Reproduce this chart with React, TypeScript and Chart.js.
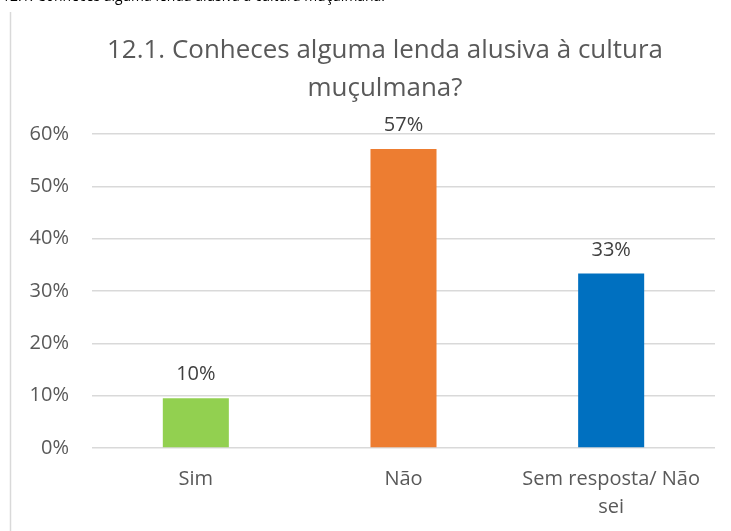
import React, { useEffect, useRef } from "react";
import { Chart, registerables } from "chart.js";

Chart.register(...registerables);

const categories: string[][] = [["Sim"], ["Não"], ["Sem resposta/ Não", "sei"]];
const values: number[] = [9.52, 57.14, 33.33];
const valueLabels: string[] = ["10%", "57%", "33%"];
const barColors: string[] = ["#92D050", "#ED7D31", "#0070C0"];
const titleLines: string[] = ["12.1. Conheces alguma lenda alusiva à cultura", "muçulmana?"];
const topFragment = "12.1. Conheces alguma lenda alusiva à cultura muçulmana.";
const yMax = 60;
const yStep = 10;

const FONT = "'Open Sans', 'DejaVu Sans', sans-serif";

const decorPlugin = {
  id: "decor",
  afterDraw(chart: any) {
    const ctx = chart.ctx as CanvasRenderingContext2D;
    ctx.save();
    // chart frame left edge
    ctx.strokeStyle = "#D9D9D9";
    ctx.lineWidth = 1.5;
    ctx.beginPath();
    ctx.moveTo(10.5, 12);
    ctx.lineTo(10.5, chart.height);
    ctx.stroke();

    // cut-off text at top of page
    ctx.fillStyle = "#000000";
    ctx.font = `16px ${FONT}`;
    ctx.textAlign = "left";
    ctx.textBaseline = "alphabetic";
    const fw = ctx.measureText(topFragment).width;
    ctx.save();
    ctx.translate(2, 1);
    ctx.scale(383 / fw, 1);
    ctx.fillText(topFragment, 0, 0);
    ctx.restore();

    // title
    ctx.fillStyle = "#595959";
    ctx.font = `26px ${FONT}`;
    ctx.textAlign = "center";
    const cx = 385;
    const baselines = [58, 96];
    const targetW = 556;
    const w0 = ctx.measureText(titleLines[0]).width;
    const sx = targetW / w0;
    titleLines.forEach((line, i) => {
      ctx.save();
      ctx.translate(cx, baselines[i]);
      ctx.scale(sx, 1);
      ctx.fillText(line, 0, 0);
      ctx.restore();
    });

    // data labels
    const meta = chart.getDatasetMeta(0);
    ctx.fillStyle = "#404040";
    ctx.font = `20px ${FONT}`;
    ctx.textAlign = "center";
    ctx.textBaseline = "alphabetic";
    meta.data.forEach((bar: any, i: number) => {
      ctx.fillText(valueLabels[i], bar.x, bar.y - 18);
    });
    ctx.restore();
  },
};

export default function App() {
  const ref = useRef<HTMLCanvasElement | null>(null);
  useEffect(() => {
    document.body.style.margin = "0";
    const canvas = ref.current!;
    const chart = new Chart(canvas, {
      type: "bar",
      data: {
        labels: categories,
        datasets: [
          {
            data: values,
            backgroundColor: barColors,
            borderWidth: 0,
            barPercentage: 0.318,
            categoryPercentage: 1,
          },
        ],
      },
      options: {
        animation: false,
        responsive: false,
        maintainAspectRatio: false,
        devicePixelRatio: 1,
        layout: { padding: { left: 10, right: 16, top: 134, bottom: 0 } },
        plugins: {
          legend: { display: false },
          title: { display: false },
          tooltip: { enabled: false },
        },
        scales: {
          x: {
            grid: { display: false, drawTicks: false },
            border: { display: false },
            ticks: {
              color: "#595959",
              font: { family: FONT, size: 20, lineHeight: 1.4 },
              padding: 17,
              maxRotation: 0,
              autoSkip: false,
            },
            afterFit(scale: any) {
              scale.height = 83;
            },
          },
          y: {
            min: 0,
            max: yMax,
            grid: { color: "#D9D9D9", lineWidth: 1.5, drawTicks: false },
            border: { display: false },
            ticks: {
              stepSize: yStep,
              color: "#595959",
              font: { family: FONT, size: 20 },
              padding: 23,
              callback: (v: any) => `${v}%`,
            },
            afterFit(scale: any) {
              scale.width = 82;
            },
          },
        },
      },
      plugins: [decorPlugin],
    });
    return () => chart.destroy();
  }, []);
  return (
    <div style={{ position: "fixed", left: 0, top: 0, width: 731, height: 531, background: "#fff" }}>
      <canvas ref={ref} width={731} height={531} style={{ width: 731, height: 531, display: "block" }} />
    </div>
  );
}
